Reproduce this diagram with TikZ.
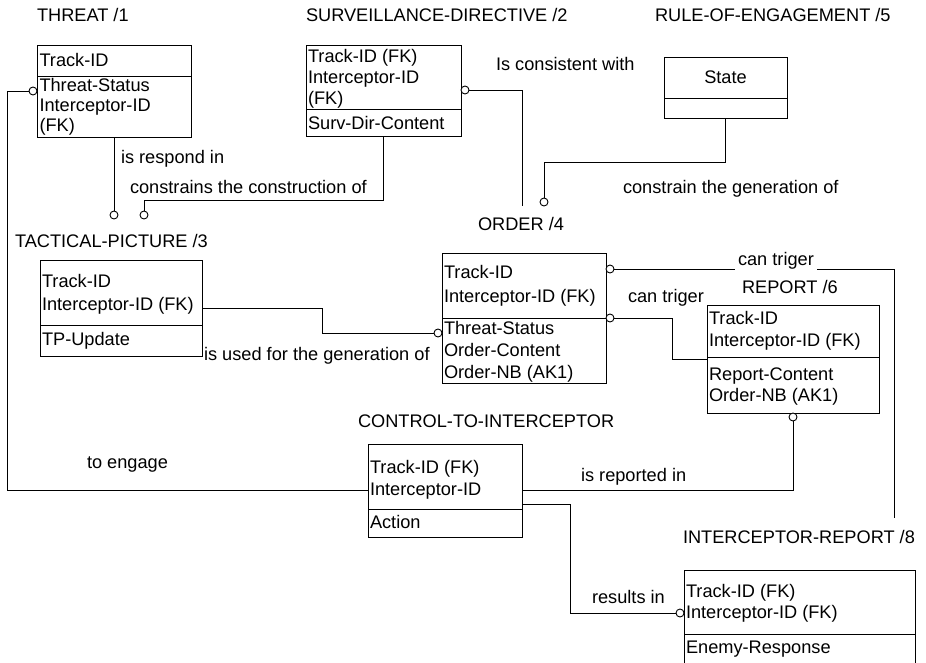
\documentclass[tikz,border=0pt]{standalone}
\usepackage{fontspec}
\setmainfont{Liberation Sans}
\usetikzlibrary{calc}
\begin{document}
\begin{tikzpicture}[x=1pt,y=-1pt,
  ebox/.style={draw, line width=1pt, inner sep=0pt, outer sep=0pt, anchor=north west, rectangle},
  ftxt/.style={font=\fontsize{18.2pt}{22pt}\selectfont, inner sep=0pt, outer sep=0pt, anchor=base west},
  circ/.style={circle, draw, fill=white, minimum size=8pt, inner sep=0pt, outer sep=0pt, line width=0.9pt},
  conn/.style={line width=1pt},
  div/.style={line width=1pt},
  wlbl/.style={ftxt, fill=white, inner xsep=3pt, inner ysep=3pt}]
\useasboundingbox (0,0) rectangle (926,662);
\clip (0,0) rectangle (926,662);
\fill[white] (0,0) rectangle (926,662);

% ---------- entity boxes ----------
\node[ebox, minimum width=154pt, minimum height=92pt] (threat) at (37,45) {};
\draw[div] (37,76) -- (191,76);
\node[ebox, minimum width=155pt, minimum height=91pt] (surv) at (306,45) {};
\draw[div] (306,109) -- (461,109);
\node[ebox, minimum width=123pt, minimum height=61pt] (rule) at (664,57) {};
\draw[div] (664,98) -- (787,98);
\node[ebox, minimum width=162pt, minimum height=96pt] (tp) at (40,260) {};
\draw[div] (40,325) -- (202,325);
\node[ebox, minimum width=164pt, minimum height=130pt] (order) at (442,253) {};
\draw[div] (442,318) -- (606,318);
\node[ebox, minimum width=172pt, minimum height=108pt] (report) at (707,305) {};
\draw[div] (707,357) -- (879,357);
\node[ebox, minimum width=154pt, minimum height=93pt] (control) at (368,444) {};
\draw[div] (368,509) -- (522,509);
\node[ebox, minimum width=231pt, minimum height=130pt] (ir) at (684,570) {};
\draw[div] (684,634) -- (915,634);

% ---------- titles ----------
\node[ftxt] (t1) at (37,21) {THREAT /1};
\node[ftxt] (t2) at (306,21) {SURVEILLANCE-DIRECTIVE /2};
\node[ftxt] (t5) at (655,21) {RULE-OF-ENGAGEMENT /5};
\node[ftxt] (t4) at (478,230) {ORDER /4};
\node[ftxt] (t3) at (15,247) {TACTICAL-PICTURE /3};
\node[ftxt] (t6) at (742,293) {REPORT /6};
\node[ftxt] (t7) at (358,427) {CONTROL-TO-INTERCEPTOR};
\node[ftxt] (t8) at (683,543) {INTERCEPTOR-REPORT /8};

% ---------- attributes ----------
\node[ftxt] (a11) at (39.5,66) {Track-ID};
\node[ftxt] (a12) at (39.5,91) {Threat-Status};
\node[ftxt] (a13) at (39.5,111) {Interceptor-ID};
\node[ftxt] (a14) at (39.5,131) {(FK)};

\node[ftxt] (a21) at (308,62.5) {Track-ID (FK)};
\node[ftxt] (a22) at (308,83) {Interceptor-ID};
\node[ftxt] (a23) at (308,104) {(FK)};
\node[ftxt] (a24) at (308,129) {Surv-Dir-Content};

\node[ftxt, anchor=base] (a51) at (725.5,83) {State};

\node[ftxt] (a31) at (42,287) {Track-ID};
\node[ftxt] (a32) at (42,310) {Interceptor-ID (FK)};
\node[ftxt] (a33) at (42,345) {TP-Update};

\node[ftxt] (a41) at (444,278) {Track-ID};
\node[ftxt] (a42) at (444,302) {Interceptor-ID (FK)};
\node[ftxt] (a43) at (444,334) {Threat-Status};
\node[ftxt] (a44) at (444,356) {Order-Content};
\node[ftxt] (a45) at (444,378) {Order-NB (AK1)};

\node[ftxt] (a61) at (709,324) {Track-ID};
\node[ftxt] (a62) at (709,346) {Interceptor-ID (FK)};
\node[ftxt] (a63) at (709,380) {Report-Content};
\node[ftxt] (a64) at (709,401) {Order-NB (AK1)};

\node[ftxt] (a71) at (370,473) {Track-ID (FK)};
\node[ftxt] (a72) at (370,495) {Interceptor-ID};
\node[ftxt] (a73) at (370,528) {Action};

\node[ftxt] (a81) at (686,597) {Track-ID (FK)};
\node[ftxt] (a82) at (686,618) {Interceptor-ID (FK)};
\node[ftxt] (a83) at (686,653) {Enemy-Response};

% ---------- circles ----------
\node[circ] (cT) at (33,91) {};
\node[circ] (cR) at (114,215) {};
\node[circ] (cC) at (144,215) {};
\node[circ] (cS) at (465,90) {};
\node[circ] (cG) at (544,202) {};
\node[circ] (cU) at (438,333) {};
\node[circ] (cO1) at (610,269) {};
\node[circ] (cO2) at (610,318) {};
\node[circ] (cRp) at (793,417) {};
\node[circ] (cIR) at (680,613) {};

% ---------- bend points / free ends ----------
\coordinate (bC) at (383,200);
\coordinate (oEnd) at (522,206);
\coordinate (bG) at (725.5,162);
\coordinate (bU) at (322,333);
\coordinate (bO1) at (894,269);
\coordinate (iEnd) at (894,518);
\coordinate (bO2) at (672,359);
\coordinate (bIR) at (570,613);

% ---------- connectors ----------
\draw[conn] (control.west) -| (7,91) -- (cT.west);
\draw[conn] (cR.north) -- (cR.north |- threat.south);
\draw[conn] (cC.north) |- (bC) -- (bC |- surv.south);
\draw[conn] (cS.east) -| (oEnd);
\draw[conn] (cG.north) |- (bG) -- (rule.south);
\draw[conn] (tp.east) -| (bU) -- (cU.west);
\draw[conn] (cO1.east) -- (bO1) -- (iEnd);
\draw[conn] (cO2.east) -| (bO2) -- (report.west);
\draw[conn] (control.east) -| (cRp.south);
\draw[conn] ($(control.east)+(0,13.5)$) -| (bIR) -- (cIR.west);

% ---------- relationship labels ----------
\node[ftxt] (l1) at (121,163) {is respond in};
\node[ftxt] (l2) at (130,193) {constrains the construction of};
\node[ftxt] (l3) at (496,70) {Is consistent with};
\node[ftxt] (l4) at (623,193) {constrain the generation of};
\node[ftxt] (l5) at (204,360) {is used for the generation of};
\node[wlbl] (l6) at (735,265) {can triger};
\node[ftxt] (l7) at (628,302) {can triger};
\node[ftxt] (l8) at (87,468) {to engage};
\node[ftxt] (l9) at (581,481) {is reported in};
\node[ftxt] (l10) at (592,603) {results in};
\end{tikzpicture}
\end{document}
